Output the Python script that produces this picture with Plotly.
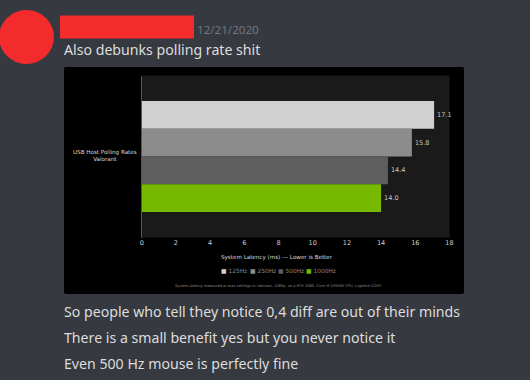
import plotly.graph_objects as go

W, H = 530, 380
category = ["USB Host Polling Rates<br>Valorant"]
series_names = ["125Hz", "250Hz", "500Hz", "1000Hz"]
series_values = [17.1, 15.8, 14.4, 14.0]
series_colors = ["#d0d0d0", "#8c8c8c", "#5e5e5e", "#76b900"]
x_ticks = [0, 2, 4, 6, 8, 10, 12, 14, 16, 18]
x_title = "System Latency (ms) --- Lower is Better"
footnote = "System latency measured at max settings in Valorant, 1080p, on a RTX 3080, Core i9 10900K CPU, Logitech G203"
timestamp = "12/21/2020"
messages = ["Also debunks polling rate shit",
            "So people who tell they notice 0,4 diff are out of their minds",
            "There is a small benefit yes but you never notice it",
            "Even 500 Hz mouse is perfectly fine"]

def px(x): return x / W
def py(y): return 1 - y / H

fig = go.Figure()
for name, val, col in zip(series_names, series_values, series_colors):
    fig.add_trace(go.Bar(
        name=name, x=[val], y=category, orientation="h",
        marker=dict(color=col, line=dict(width=0)),
        text=[f"{val:.1f}"], textposition="outside", cliponaxis=False,
        textfont=dict(color="#c8c8c8", size=6.5, family="DejaVu Sans"),
    ))

shapes = [
    dict(type="path", xref="paper", yref="paper", layer="below",
         path=f"M{px(66)},{py(67)} L{px(462)},{py(67)} Q{px(464)},{py(67)} {px(464)},{py(69)} "
              f"L{px(464)},{py(292)} Q{px(464)},{py(294)} {px(462)},{py(294)} L{px(66)},{py(294)} "
              f"Q{px(64)},{py(294)} {px(64)},{py(292)} L{px(64)},{py(69)} Q{px(64)},{py(67)} {px(66)},{py(67)} Z",
         fillcolor="#000000", line=dict(width=0)),
    dict(type="rect", xref="x domain", yref="y domain", layer="below",
         x0=0, x1=1, y0=0, y1=1, fillcolor="#1a1a1a", line=dict(width=0)),
    dict(type="circle", xref="paper", yref="paper", layer="below",
         x0=px(-1), x1=px(54), y0=py(10), y1=py(64),
         fillcolor="#f42b2d", line=dict(width=0)),
    dict(type="rect", xref="paper", yref="paper", layer="below",
         x0=px(60), x1=px(194), y0=py(15.5), y1=py(38.5),
         fillcolor="#f42b2d", line=dict(width=0)),
]

def note(text, x, y, size, color, family="Noto Sans", anchor="left"):
    return dict(text=text, x=px(x), y=py(y), xref="paper", yref="paper",
                xanchor=anchor, yanchor="middle", showarrow=False, borderpad=0, borderwidth=0,
                font=dict(size=size, color=color, family=family))

annotations = [
    note(timestamp, 197, 29, 11.6, "#72767d"),
    note(messages[0], 63.5, 50, 14.15, "#dcddde"),
    note(messages[1], 63.5, 311, 14.15, "#dcddde"),
    note(messages[2], 63.5, 337, 14.15, "#dcddde"),
    note(messages[3], 63.5, 363, 14.15, "#dcddde"),
    note(f"<i>{footnote}</i>", 278, 286, 3.6, "#8a8a8a", "DejaVu Sans", "center"),
    note(category[0], 104.5, 156, 5.6, "#d8d8d8", "DejaVu Sans", "center"),
    note(x_title, 277, 257, 5.6, "#d8d8d8", "DejaVu Sans", "center"),
]
legend_x = [221, 249.5, 278, 306]
for name, col, lx in zip(series_names, series_colors, legend_x):
    annotations.append(note(f'<span style="color:{col}">■</span> {name}', lx, 270.6, 5.9,
                            "#8a8a8a", "DejaVu Sans"))

fig.update_layout(
    width=W, height=H, autosize=False, showlegend=False,
    paper_bgcolor="#36393f", plot_bgcolor="#1a1a1a",
    margin=dict(l=0, r=0, t=0, b=0, pad=0, autoexpand=False),
    barmode="group", bargap=0.315, bargroupgap=0,
    xaxis=dict(domain=[px(141.7), px(449.5)], range=[0, 18], tickvals=x_ticks,
               showgrid=False, zeroline=False, ticks="", showline=False, automargin=False,
               tickfont=dict(color="#d0d0d0", size=6.5, family="DejaVu Sans")),
    yaxis=dict(domain=[py(237.5), py(75.5)], autorange="reversed", automargin=False,
               showgrid=False, zeroline=False, ticks="", showline=True,
               showticklabels=False, linecolor="#555555", linewidth=1),
    shapes=shapes, annotations=annotations,
)
fig.write_html("out.html", config=dict(displayModeBar=False),
               post_script="document.body.style.margin='0';document.body.style.background='#36393f';")
